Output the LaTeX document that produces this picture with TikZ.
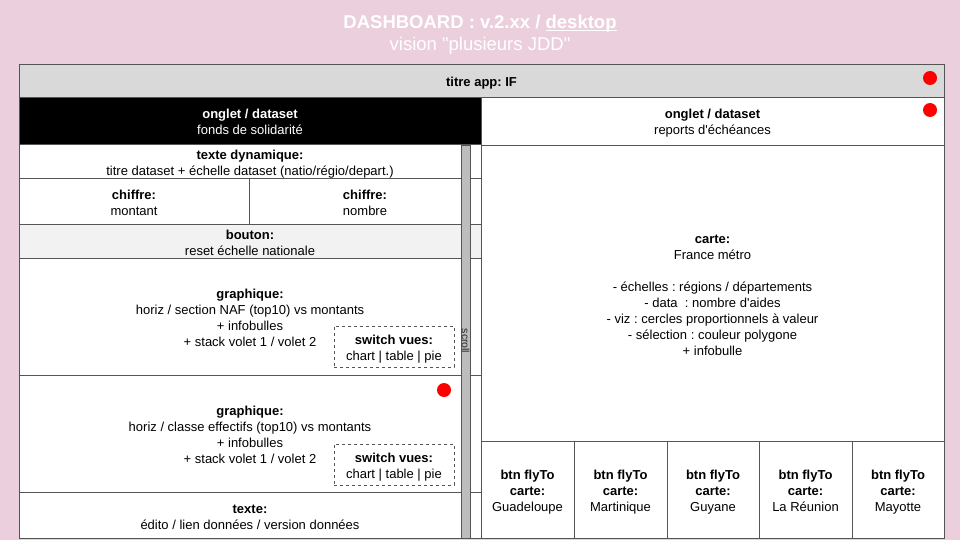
\documentclass[tikz,border=0pt]{standalone}
\usepackage{fontspec}
\newfontfamily\lsans{Liberation Sans}
\frenchspacing
\definecolor{bgpink}{RGB}{236,207,220}
\definecolor{linegray}{RGB}{85,85,85}
\definecolor{barfill}{RGB}{217,217,217}
\definecolor{btnfill}{RGB}{242,242,242}
\definecolor{scrollfill}{RGB}{189,189,189}
\definecolor{dotred}{RGB}{255,0,0}
\newcommand\topstrut{\rule{0pt}{15pt}}
\newcommand\botstrut{\rule[-3pt]{0pt}{3pt}}
\newcommand\bt[1]{\topstrut#1\botstrut}
\newlength\ulw
\newcommand\myul[1]{\settowidth\ulw{#1}\rlap{\rule[-2.4pt]{\ulw}{1.3pt}}#1}
\begin{document}
\begin{tikzpicture}[x=1pt,y=-1pt,
  box/.style={draw=linegray, line width=0.9pt, fill=white, rectangle, inner sep=0pt, align=center,
    font=\lsans\frenchspacing\fontsize{13}{16}\selectfont},
  switchbox/.style={box, dashed, line width=0.8pt},
  reddot/.style={circle, fill=dotred, inner sep=0pt, minimum size=14pt},
  titletext/.style={text=white, inner sep=0pt, anchor=base, font=\lsans\frenchspacing\fontsize{18.5}{22}\selectfont}
]
\fill[bgpink] (0,0) rectangle (960,540);
\useasboundingbox (0,0) rectangle (960,540);

% header
\node[titletext] (title) at (480,28.5) {\textbf{DASHBOARD : v.2.xx / \myul{desktop}}};
\node[titletext] (subtitle) at (480,51) {vision "plusieurs JDD"};

% title bar
\node[box, fill=barfill, minimum width=925pt, minimum height=33pt] (bar) at (481.5,80.5) {\bt{\textbf{titre app: IF}}};

% tabs
\node[box, fill=black, text=white, minimum width=462pt, minimum height=48pt] (tabL) at (250,121)
  {\bt{\textbf{onglet / dataset}\\fonds de solidarité}};
\node[box, minimum width=463pt, minimum height=48pt] (tabR) at (712.5,121)
  {\bt{\textbf{onglet / dataset}\\reports d'échéances}};

% left column
\node[box, minimum width=462pt, minimum height=33pt] (dyn) at (250,161.5)
  {\bt{\textbf{texte dynamique:}\\titre dataset + échelle dataset (natio/régio/depart.)}};
\node[box, minimum width=230pt, minimum height=46pt] (chL) at (134,201)
  {\bt{\textbf{chiffre:}\\montant}};
\node[box, minimum width=232pt, minimum height=46pt] (chR) at (365,201)
  {\bt{\textbf{chiffre:}\\nombre}};
\node[box, fill=btnfill, minimum width=462pt, minimum height=34pt] (reset) at (250,241)
  {\bt{\textbf{bouton:}\\reset échelle nationale}};
\node[box, minimum width=462pt, minimum height=117pt] (g1) at (250,316.5)
  {\bt{\textbf{graphique:}\\horiz / section NAF (top10) vs montants\\+ infobulles\\+ stack volet 1 / volet 2}};
\node[box, minimum width=462pt, minimum height=117pt] (g2) at (250,433.5)
  {\bt{\textbf{graphique:}\\horiz / classe effectifs (top10) vs montants\\+ infobulles\\+ stack volet 1 / volet 2}};
\node[box, minimum width=462pt, minimum height=46.5pt] (txt) at (250,515.25)
  {\bt{\textbf{texte:}\\édito / lien données / version données}};

% switch boxes
\node[switchbox, minimum width=120pt, minimum height=41pt] (sw1) at (394,346.5)
  {\bt{\textbf{switch vues:}\\chart | table | pie}};
\node[switchbox, minimum width=120pt, minimum height=41pt] (sw2) at (394,464.5)
  {\bt{\textbf{switch vues:}\\chart | table | pie}};

% scrollbar
\node[draw=linegray, line width=0.9pt, fill=scrollfill, inner sep=0pt, minimum width=8.5pt, minimum height=393.5pt] (scroll) at (465.75,341.75) {};
\node[inner sep=0pt, rotate=-90, font=\lsans\fontsize{10.5}{11}\selectfont, text=black!85] (scrolllbl) at (465.5,341) {scroll};

% right column
\node[box, minimum width=463pt, minimum height=296pt] (carte) at (712.5,293)
  {\bt{\textbf{carte:}\\France métro\\[16pt]- échelles : régions / départements\\- data~ : nombre d'aides\\- viz : cercles proportionnels à valeur\\- sélection : couleur polygone\\+ infobulle}};

\node[box, minimum width=93pt, minimum height=97.5pt] (b1) at (527.5,489.75)
  {\bt{\textbf{btn flyTo}\\\textbf{carte:}\\Guadeloupe}};
\node[box, minimum width=93pt, minimum height=97.5pt] (b2) at (620.5,489.75)
  {\bt{\textbf{btn flyTo}\\\textbf{carte:}\\Martinique}};
\node[box, minimum width=92pt, minimum height=97.5pt] (b3) at (713,489.75)
  {\bt{\textbf{btn flyTo}\\\textbf{carte:}\\Guyane}};
\node[box, minimum width=93pt, minimum height=97.5pt] (b4) at (805.5,489.75)
  {\bt{\textbf{btn flyTo}\\\textbf{carte:}\\La Réunion}};
\node[box, minimum width=92pt, minimum height=97.5pt] (b5) at (898,489.75)
  {\bt{\textbf{btn flyTo}\\\textbf{carte:}\\Mayotte}};

% red dots
\node[reddot] (dot1) at (930,78) {};
\node[reddot] (dot2) at (930,110) {};
\node[reddot] (dot3) at (444,390) {};
\end{tikzpicture}
\end{document}
